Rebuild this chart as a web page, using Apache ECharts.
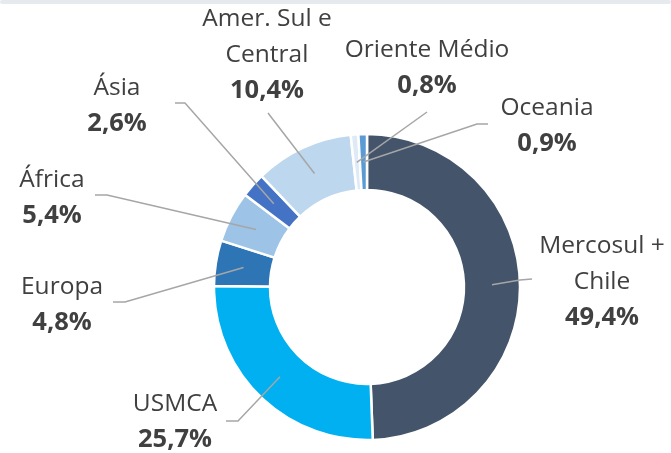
<!DOCTYPE html>
<html>
<head>
<meta charset="utf-8">
<script src="https://cdn.jsdelivr.net/npm/echarts@6/dist/echarts.min.js"></script>
<style>
html,body{margin:0;padding:0;background:#fff}
#main{width:671px;height:453px}
</style>
</head>
<body>
<div id="main"></div>
<script>
var regioes = ['Mercosul +\nChile','USMCA','Europa','África','Ásia','Amer. Sul e\nCentral','Oriente Médio','Oceania']
var valores = [49.4,25.7,4.8,5.4,2.6,10.4,0.8,0.9]
var cores = ['#44546a','#00b0f0','#2e75b6','#9dc3e6','#4472c4','#bdd7ee','#deebf7','#5b9bd5']

// onde fica cada rotulo e por onde passa a linha ate ele
var posRotulo = [[602,282],[175,422],[62,305],[52,198],[117,106],[267,55],[427,68],[547,126]]
var cotovelo = [[520,280],[238,421],[125,302],[107,195],[185,103],[268,113],[427,112],[477,124]]
var pontaLinha = [[532,279],[226,421],[113,302],[95,195],[175,103],[268,113],[427,112],[488,124]]

var centro = [367,287]
var raios = [97,153]
var fonte = '"Open Sans", sans-serif'

var total = valores.reduce(function(a,b){return a+b},0)
var acum = []
var s = 0
for(var i=0;i<valores.length;i++){
    acum.push(s)
    s += valores[i]
}

// ponto no meio do anel, no angulo medio da fatia
function ancora(i){
    var frac = (acum[i] + valores[i]/2)/total
    var ang = frac*2*Math.PI
    var r = (raios[0]+raios[1])/2
    return [centro[0] + r*Math.sin(ang), centro[1] - r*Math.cos(ang)]
}

var dados = regioes.map(function(nome,i){
    return {name:nome, value:valores[i], itemStyle:{color:cores[i]}}
})

var linhas = regioes.map(function(nome,i){
    return {
        type:'polyline',
        z:100,
        shape:{points:[ancora(i), cotovelo[i], pontaLinha[i]]},
        style:{stroke:'#a6a6a6',lineWidth:1.5,fill:null}
    }
})
linhas.push({
    type:'rect',
    shape:{x:0,y:0,width:671,height:4,r:2},
    style:{fill:'#e6eaee'}
})

var chart = echarts.init(document.getElementById('main'))
chart.setOption({
    animation:false,
    graphic:linhas,
    series:[{
        type:'pie',
        center:centro,
        radius:raios,
        startAngle:90,
        clockwise:true,
        avoidLabelOverlap:false,
        silent:true,
        data:dados,
        itemStyle:{borderColor:'#fff',borderWidth:2.5},
        label:{
            show:true,
            position:'outside',
            formatter:function(p){
                var ls = p.name.split('\n').map(function(t){return '{n|'+t+'}'})
                return ls.join('\n') + '\n{v|' + p.value.toFixed(1).replace('.',',') + '%}'
            },
            rich:{
                n:{fontFamily:fonte,fontSize:24.5,color:'#404040',lineHeight:36,align:'center'},
                v:{fontFamily:fonte,fontSize:25.5,fontWeight:'bold',color:'#404040',lineHeight:36,align:'center'}
            }
        },
        labelLine:{show:false},
        labelLayout:function(params){
            var i = params.dataIndex
            return {
                x:posRotulo[i][0],
                y:posRotulo[i][1],
                align:'center',
                verticalAlign:'middle'
            }
        }
    }]
})
</script>
</body>
</html>
